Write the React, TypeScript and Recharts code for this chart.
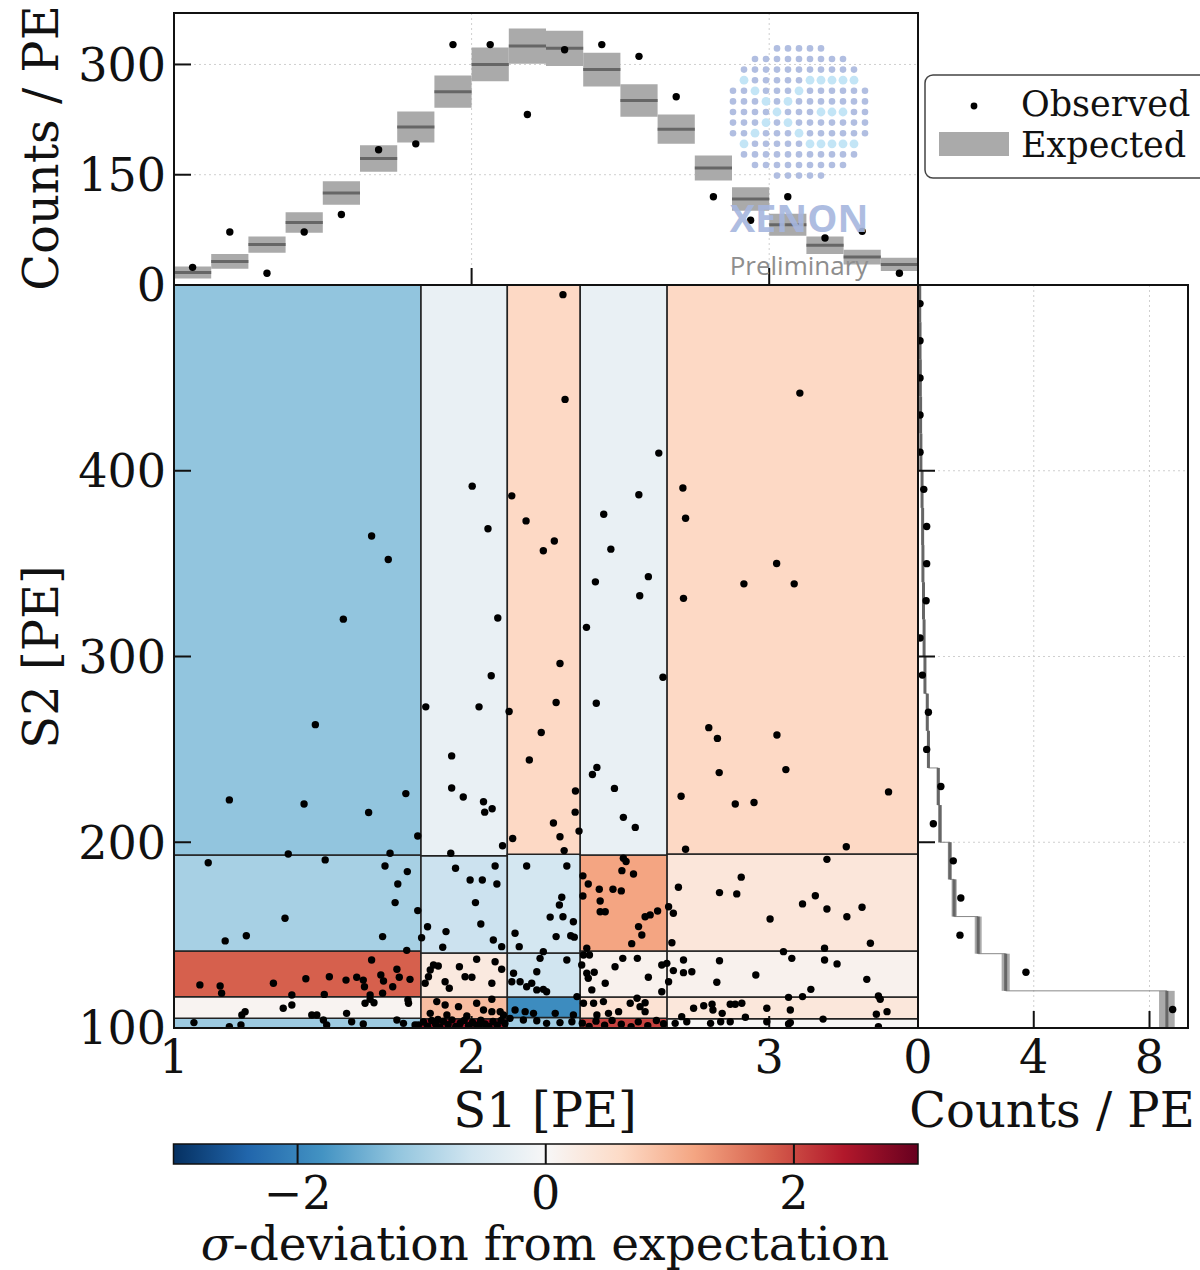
import React from 'react';
import {
  ScatterChart,
  ComposedChart,
  Scatter,
  XAxis,
  YAxis,
  CartesianGrid,
  ReferenceArea,
  ReferenceLine,
} from 'recharts';

const W = 1200;
const H = 1270;
const FONT = '"DejaVu Serif", "Liberation Serif", serif';

// ---------- Top panel: S1 projection ----------
const s1BinLow = [1.0, 1.125, 1.25, 1.375, 1.5, 1.625, 1.75, 1.875, 2.0, 2.125, 2.25, 2.375, 2.5, 2.625, 2.75, 2.875, 3.0, 3.125, 3.25, 3.375];
const s1BinHigh = [1.125, 1.25, 1.375, 1.5, 1.625, 1.75, 1.875, 2.0, 2.125, 2.25, 2.375, 2.5, 2.625, 2.75, 2.875, 3.0, 3.125, 3.25, 3.375, 3.5];
const s1Observed = [24, 72, 16, 72, 96, 184, 192, 327, 327, 232, 320, 327, 311, 256, 120, 88, 120, 64, 73, 16];
const s1Expected = [17, 32, 55, 85, 125, 172, 215, 263, 300, 325, 322, 293, 251, 212, 159, 117, 82, 54, 38, 28];
const s1ExpectedErr = [8, 10, 11, 14, 16, 18, 21, 22, 23, 24, 24, 23, 22, 20, 17, 16, 15, 12, 10, 9];
const topYTicks = [0, 150, 300];
const topXTicks = [2, 3];

// ---------- Right panel: S2 projection ----------
const s2BinLow = [100, 120, 140, 160, 180, 200, 220, 240, 260, 280, 300, 320, 340, 360, 380, 400, 420, 440, 460, 480];
const s2BinHigh = [120, 140, 160, 180, 200, 220, 240, 260, 280, 300, 320, 340, 360, 380, 400, 420, 440, 460, 480, 500];
const s2Observed = [8.8, 3.73, 1.45, 1.48, 1.22, 0.53, 0.79, 0.3, 0.36, 0.15, 0.07, 0.28, 0.3, 0.3, 0.2, 0.07, 0.07, 0.07, 0.07, 0.07];
const s2Expected = [8.6, 3.03, 2.08, 1.25, 1.1, 0.76, 0.7, 0.36, 0.32, 0.24, 0.21, 0.19, 0.17, 0.16, 0.14, 0.1, 0.09, 0.08, 0.07, 0.06];
const s2ExpectedErr = [0.27, 0.14, 0.12, 0.09, 0.07, 0.06, 0.05, 0.04, 0.04, 0.03, 0.03, 0.03, 0.03, 0.03, 0.03, 0.02, 0.02, 0.02, 0.02, 0.02];
const rightXTicks = [0, 4, 8];
const mainYTicks = [100, 200, 300, 400];
const mainXTicks = [1, 2, 3];

// ---------- Main panel: binning and sigma deviations ----------
const s1Edges = [1.0, 1.83, 2.12, 2.365, 2.657, 3.5];
const s2EdgesByColumn = [
  [100, 105.3, 116.8, 141.5, 193.2, 500],
  [100, 105.0, 116.7, 140.4, 192.7, 500],
  [100, 105.7, 116.7, 140.4, 193.5, 500],
  [100, 105.3, 116.7, 141.5, 193.2, 500],
  [100, 105.0, 116.7, 141.5, 193.7, 500],
];
const sigmaByColumn = [
  [-1.1, 0.08, 1.8, -1.0, -1.2],
  [2.5, 0.93, 0.3, -0.65, -0.22],
  [-1.05, -1.9, -0.6, -0.55, 0.62],
  [2.05, 0.45, 0.12, 1.2, -0.22],
  [0.02, 0.35, 0.12, 0.36, 0.62],
];
const colorbarTicks = [-2, 0, 2];

const events: [number, number][] = [
  // upper region
  [1.664, 364.9], [1.72, 352.2], [1.569, 320.1], [1.475, 263.3], [1.186, 222.8], [1.437, 220.6], [1.654, 216.0], [1.779, 226.2], [1.819, 203.4], [1.384, 193.7], [1.726, 194.1],
  [2.002, 391.7], [2.055, 368.8], [2.088, 320.7], [2.066, 289.6], [1.846, 272.9], [2.025, 272.9], [1.933, 246.5], [1.933, 229.2], [1.972, 224.4], [2.04, 221.8], [2.069, 218.0], [2.044, 216.2], [2.104, 198.1], [1.93, 194.1],
  [2.307, 494.8], [2.314, 438.4], [2.135, 386.5], [2.183, 373.0], [2.241, 356.9], [2.278, 362.2], [2.126, 270.4], [2.234, 259.1], [2.194, 244.3], [2.138, 202.0], [2.297, 296.2], [2.284, 275.2], [2.349, 227.6], [2.348, 216.2], [2.275, 210.4], [2.297, 203.0], [2.361, 206.0], [2.311, 195.5],
  [2.629, 409.5], [2.562, 387.1], [2.444, 376.6], [2.468, 357.8], [2.594, 343.0], [2.416, 340.2], [2.565, 332.7], [2.386, 315.7], [2.643, 288.8], [2.419, 274.8], [2.421, 240.3], [2.406, 236.5], [2.48, 229.0], [2.51, 213.4], [2.55, 208.0],
  [3.103, 441.8], [2.71, 390.7], [2.719, 374.4], [3.025, 350.1], [2.915, 339.1], [3.084, 339.1], [2.712, 331.3], [2.797, 261.7], [2.826, 255.9], [3.026, 257.7], [2.832, 237.5], [3.056, 239.1], [2.704, 224.8], [2.886, 220.6], [2.949, 221.4], [3.401, 227.1], [2.719, 196.2], [3.259, 197.6],
  // second row
  [1.508, 190.5], [1.115, 189.0], [1.709, 187.2], [1.784, 184.2], [1.752, 177.5], [1.743, 167.5], [1.819, 163.2], [1.373, 159.1], [1.243, 149.7], [1.172, 146.9], [1.701, 149.2], [1.832, 148.6], [1.782, 141.8],
  [1.946, 186.0], [2.079, 187.2], [1.995, 179.7], [2.036, 179.7], [2.085, 177.5], [2.013, 167.5], [2.031, 156.0], [1.852, 154.5], [1.914, 151.9], [2.073, 147.4], [2.101, 143.8], [1.903, 143.5],
  [2.185, 187.2], [2.146, 151.0], [2.16, 143.8], [2.264, 159.7], [2.32, 187.2], [2.303, 170.4], [2.295, 166.2], [2.307, 159.9], [2.342, 157.2], [2.284, 149.2], [2.333, 149.7], [2.345, 148.9],
  [2.51, 191.4], [2.519, 189.6], [2.505, 184.7], [2.544, 182.9], [2.374, 181.9], [2.392, 177.5], [2.429, 174.7], [2.475, 174.7], [2.503, 173.8], [2.374, 171.1], [2.432, 168.4], [2.432, 162.6], [2.449, 162.6], [2.583, 159.9], [2.6, 160.9], [2.625, 163.0], [2.662, 165.3], [2.561, 154.6], [2.572, 150.1], [2.538, 145.4], [2.387, 142.9],
  [2.678, 161.8], [2.673, 145.9], [3.194, 190.8], [2.695, 175.8], [2.833, 172.9], [2.891, 172.2], [2.906, 181.2], [3.003, 158.7], [3.112, 166.8], [3.155, 171.2], [3.194, 164.1], [3.261, 159.9], [3.312, 165.0], [3.34, 145.6], [3.186, 142.9],
  // third row
  [1.664, 136.6], [1.087, 123.2], [1.155, 122.6], [1.16, 118.7], [1.334, 124.1], [1.443, 126.5], [1.522, 127.6], [1.578, 125.8], [1.614, 127.3], [1.636, 125.8], [1.64, 122.2], [1.695, 128.5], [1.704, 125.3], [1.735, 122.2], [1.749, 131.6], [1.757, 127.3], [1.793, 126.2], [1.701, 118.7], [1.659, 117.8], [1.505, 118.1], [1.396, 117.8],
  [1.872, 133.9], [1.888, 133.4], [1.861, 131.2], [1.855, 127.6], [1.844, 124.1], [1.959, 133.0], [2.017, 137.0], [2.079, 135.7], [2.101, 131.6], [1.978, 127.6], [2.001, 127.3], [1.911, 124.9], [1.925, 121.4], [2.068, 124.1],
  [2.241, 141.1], [2.23, 137.5], [2.32, 136.6], [2.219, 130.3], [2.141, 129.5], [2.135, 124.9], [2.163, 124.9], [2.185, 122.2], [2.202, 124.1], [2.219, 120.5], [2.241, 120.8], [2.252, 119.5], [2.354, 116.9],
  [2.376, 139.3], [2.396, 139.3], [2.37, 133.9], [2.387, 129.5], [2.404, 120.5], [2.449, 124.1], [2.482, 133.0], [2.508, 137.5], [2.557, 137.5], [2.594, 127.3], [2.639, 133.9], [2.656, 134.8], [2.639, 119.5], [2.662, 124.9], [2.412, 130.0], [2.392, 126.8],
  [2.678, 130.9], [2.712, 136.6], [2.712, 129.8], [2.74, 130.3], [2.833, 136.2], [2.824, 124.6], [2.955, 128.5], [3.048, 141.1], [3.076, 137.5], [3.14, 120.8], [3.186, 136.6], [3.228, 134.5], [3.328, 126.2], [3.367, 117.2],
  // fourth row
  [1.642, 113.3], [1.659, 115.5], [1.672, 113.6], [1.788, 113.3], [1.786, 115.1], [1.367, 110.6], [1.396, 112.4], [1.239, 108.8], [1.228, 107.0], [1.463, 107.0], [1.48, 107.0], [1.58, 107.9],
  [1.883, 114.2], [1.911, 112.4], [1.956, 111.5], [2.017, 113.3], [2.04, 109.7], [2.068, 108.8], [1.861, 107.9], [1.917, 107.0], [2.096, 108.8], [2.107, 107.0], [1.984, 106.5], [2.068, 115.5],
  [2.146, 109.7], [2.18, 108.8], [2.208, 107.9], [2.281, 107.9], [2.342, 107.0],
  [2.376, 113.3], [2.41, 113.3], [2.443, 114.2], [2.533, 113.3], [2.556, 116.0], [2.566, 111.5], [2.583, 113.6], [2.583, 108.8], [2.494, 108.8], [2.46, 107.9], [2.421, 107.0],
  [3.065, 116.5], [3.112, 116.9], [3.373, 115.5], [2.746, 110.6], [2.78, 112.0], [2.808, 112.8], [2.811, 109.7], [2.842, 107.9], [2.869, 112.8], [2.886, 112.8], [2.908, 113.3], [2.992, 110.6], [3.071, 109.7], [2.92, 105.8], [3.396, 108.8], [3.36, 107.4], [2.706, 106.1],
  // bottom row
  [1.502, 104.3], [1.597, 103.4], [1.749, 104.3], [1.771, 102.5], [1.067, 102.9], [1.186, 100.7], [1.225, 101.6], [1.513, 101.6], [1.636, 102.2], [1.81, 101.6], [1.821, 101.6],
  [1.838, 103.2], [1.852, 101.0], [1.866, 104.0], [1.879, 102.1], [1.893, 100.6], [1.905, 103.6], [1.921, 101.8], [1.934, 104.4], [1.947, 100.9], [1.962, 102.7], [1.975, 104.1], [1.99, 101.3], [2.003, 103.0], [2.018, 100.7], [2.031, 104.2], [2.045, 102.2], [2.058, 100.9], [2.072, 103.5], [2.086, 101.5], [2.099, 104.0], [2.112, 102.4], [1.887, 104.6], [1.958, 100.5], [2.026, 102.0],
  [2.129, 105.2], [2.174, 104.3], [2.219, 103.9], [2.252, 102.5], [2.297, 102.9], [2.337, 103.4],
  [2.372, 102.6], [2.395, 100.8], [2.418, 103.7], [2.447, 101.5], [2.472, 104.1], [2.503, 102.0], [2.536, 100.7], [2.56, 103.3], [2.592, 101.2], [2.621, 104.0], [2.645, 102.3],
  [3.181, 104.8], [3.367, 100.7], [3.065, 102.2], [3.071, 102.9], [2.992, 103.4], [2.837, 103.4], [2.803, 102.5], [2.869, 103.4], [2.723, 103.4], [2.684, 102.5],
];

// ---------- colour map (RdBu reversed) ----------
const RDBU = ['#053061', '#2166ac', '#4393c3', '#92c5de', '#d1e5f0', '#f7f7f7', '#fddbc7', '#f4a582', '#d6604d', '#b2182b', '#67001f'];
function hexToRgb(h: string) {
  const n = parseInt(h.slice(1), 16);
  return [(n >> 16) & 255, (n >> 8) & 255, n & 255];
}
function sigmaColor(s: number) {
  const t = Math.min(1, Math.max(0, (s + 3) / 6)) * 10;
  const i = Math.min(9, Math.floor(t));
  const f = t - i;
  const a = hexToRgb(RDBU[i]);
  const b = hexToRgb(RDBU[i + 1]);
  const c = a.map((v, k) => Math.round(v + (b[k] - v) * f));
  return `rgb(${c[0]},${c[1]},${c[2]})`;
}

const cells: { x1: number; x2: number; y1: number; y2: number; fill: string }[] = [];
for (let ci = 0; ci < s1Edges.length - 1; ci++) {
  const rows = s2EdgesByColumn[ci];
  for (let r = 0; r < rows.length - 1; r++) {
    cells.push({ x1: s1Edges[ci], x2: s1Edges[ci + 1], y1: rows[r], y2: rows[r + 1], fill: sigmaColor(sigmaByColumn[ci][r]) });
  }
}

const topObsData = s1Observed.map((v, i) => ({ x: (s1BinLow[i] + s1BinHigh[i]) / 2, y: v }));
const rightObsData = s2Observed.map((v, i) => ({ x: v, y: (s2BinLow[i] + s2BinHigh[i]) / 2 }));
const eventData = events.map(([x, y]) => ({ x, y }));

const tickStyle = { fontSize: 46, fontFamily: FONT, fill: '#111' };
const tickLineStyle = { stroke: '#111', strokeWidth: 2 };
const gridProps = { stroke: '#cfcfcf', strokeDasharray: '2 3', strokeWidth: 1 };

const makeDot = (r: number) => (p: any) => <circle cx={p.cx} cy={p.cy} r={r} fill="#000" />;
const blank = () => '';
const minusFmt = (v: number) => (v < 0 ? '\u2212' + Math.abs(v) : String(v));

function TopChart() {
  return (
    <ScatterChart width={W} height={H} margin={{ top: 13, right: 282, bottom: 965, left: 0 }}>
      <CartesianGrid {...gridProps} />
      <XAxis type="number" dataKey="x" domain={[1, 3.5]} ticks={topXTicks} allowDataOverflow height={20}
        axisLine={false} tickSize={-17} tickFormatter={blank} tickLine={tickLineStyle} interval={0} />
      <YAxis type="number" dataKey="y" domain={[0, 370]} ticks={topYTicks} allowDataOverflow width={174}
        axisLine={false} tickSize={-17} tickMargin={25} tick={tickStyle} tickLine={tickLineStyle} interval={0} />
      {s1Expected.map((v, i) => (
        <ReferenceArea key={'a' + i} x1={s1BinLow[i]} x2={s1BinHigh[i]} y1={v - s1ExpectedErr[i]} y2={v + s1ExpectedErr[i]}
          fill="#aaaaaa" fillOpacity={1} stroke="none" />
      ))}
      {s1Expected.map((v, i) => (
        <ReferenceLine key={'l' + i} segment={[{ x: s1BinLow[i], y: v }, { x: s1BinHigh[i], y: v }]} stroke="#666" strokeWidth={3} />
      ))}
      <Scatter data={topObsData} shape={makeDot(3.7)} isAnimationActive={false} />
    </ScatterChart>
  );
}

function MainChart() {
  return (
    <ScatterChart width={W} height={H} margin={{ top: 285, right: 282, bottom: 182, left: 0 }}>
      <XAxis type="number" dataKey="x" domain={[1, 3.5]} ticks={mainXTicks} allowDataOverflow height={60}
        axisLine={false} tickSize={-12} tickMargin={24} tick={tickStyle} tickLine={tickLineStyle} interval={0} />
      <YAxis type="number" dataKey="y" domain={[100, 500]} ticks={mainYTicks} allowDataOverflow width={174}
        axisLine={false} tickSize={-17} tickMargin={25} tick={tickStyle} tickLine={tickLineStyle} interval={0} />
      {cells.map((c, i) => (
        <ReferenceArea key={i} x1={c.x1} x2={c.x2} y1={c.y1} y2={c.y2} fill={c.fill} fillOpacity={1} stroke="#222" strokeWidth={1.5} />
      ))}
      <Scatter data={eventData} shape={makeDot(3.7)} isAnimationActive={false} />
    </ScatterChart>
  );
}

function RightChart() {
  return (
    <ScatterChart width={W} height={H} margin={{ top: 285, right: 12, bottom: 182, left: 917 }}>
      <CartesianGrid {...gridProps} />
      <XAxis type="number" dataKey="x" domain={[0, 9.33]} ticks={rightXTicks} allowDataOverflow height={60}
        axisLine={false} tickSize={-17} tickMargin={29} tick={tickStyle} tickLine={tickLineStyle} interval={0} />
      <YAxis type="number" dataKey="y" domain={[100, 500]} ticks={mainYTicks} allowDataOverflow width={1}
        axisLine={false} tickSize={-17} tickFormatter={blank} tickLine={tickLineStyle} interval={0} />
      {s2Expected.map((v, i) => (
        <ReferenceArea key={'a' + i} x1={v - s2ExpectedErr[i]} x2={v + s2ExpectedErr[i]} y1={s2BinLow[i]} y2={s2BinHigh[i]}
          fill="#aaaaaa" fillOpacity={1} stroke="none" />
      ))}
      {s2Expected.slice(0, -1).map((v, i) => (
        <ReferenceLine key={'c' + i} segment={[{ x: v, y: s2BinHigh[i] }, { x: s2Expected[i + 1], y: s2BinHigh[i] }]} stroke="#888" strokeWidth={1} />
      ))}
      {s2Expected.map((v, i) => (
        <ReferenceLine key={'l' + i} segment={[{ x: v, y: s2BinLow[i] }, { x: v, y: s2BinHigh[i] }]} stroke="#666" strokeWidth={3} />
      ))}
      <Scatter data={rightObsData} shape={makeDot(3.7)} isAnimationActive={false} />
    </ScatterChart>
  );
}

function Colorbar() {
  return (
    <ComposedChart width={W} height={H} margin={{ top: 1144, right: 282, bottom: 46, left: 173.5 }}>
      <defs>
        <linearGradient id="rdbuGrad" x1="0" y1="0" x2="1" y2="0">
          {RDBU.map((c, i) => (
            <stop key={i} offset={`${i * 10}%`} stopColor={c} />
          ))}
        </linearGradient>
      </defs>
      <XAxis type="number" dataKey="x" domain={[-3, 3]} ticks={colorbarTicks} allowDataOverflow height={60}
        axisLine={false} tickLine={false} tickSize={0} tickMargin={12} tick={tickStyle} tickFormatter={minusFmt} interval={0} />
      <YAxis type="number" hide domain={[0, 1]} allowDataOverflow />
      <ReferenceArea x1={-3} x2={3} y1={0} y2={1} fill="url(#rdbuGrad)" fillOpacity={1} stroke="#111" strokeWidth={1.5} />
      {colorbarTicks.map((t) => (
        <ReferenceLine key={t} x={t} stroke="#111" strokeWidth={2} />
      ))}
    </ComposedChart>
  );
}

const logoHighlights: [number, number][] = [
  [-5, -3], [1, -3], [2, -3], [3, -3], [4, -3], [5, -3],
  [-4, -2], [0, -2], [-3, -1], [-1, -1],
  [-2, 0], [2, 0], [3, 0], [4, 0],
  [-3, 1], [-1, 1], [-4, 2], [0, 2],
  [-5, 3], [1, 3], [2, 3], [3, 3], [4, 3], [5, 3],
];

function Logo() {
  const cx = 799;
  const cy = 112;
  const dots: React.ReactNode[] = [];
  for (let j = -6; j <= 6; j++) {
    for (let i = -6; i <= 6; i++) {
      if (i * i + j * j > 42.25) continue;
      const hl = logoHighlights.some(([a, b]) => a === i && b === j);
      dots.push(
        <circle key={i + '_' + j} cx={cx + i * 11} cy={cy + j * 10.6} r={hl ? 4.4 : 3.3} fill={hl ? '#bde3f6' : '#a9b8de'} />
      );
    }
  }
  return (
    <svg width={W} height={H} style={{ position: 'absolute', left: 0, top: 0 }}>
      <g opacity={0.9}>{dots}</g>
      <text x={cx} y={232} textAnchor="middle" fontFamily='"Open Sans", "DejaVu Sans", sans-serif' fontWeight={700}
        fontSize={38} fill="#a6b6de" opacity={0.9}>XENON</text>
      <text x={cx} y={275} textAnchor="middle" fontFamily='"Open Sans", "DejaVu Sans", sans-serif'
        fontSize={26} fill="#8e8e8e">Preliminary</text>
    </svg>
  );
}

function Legend() {
  return (
    <svg width={W} height={H} style={{ position: 'absolute', left: 0, top: 0 }}>
      <rect x={925} y={75} width={292} height={103} rx={8} ry={8} fill="#fff" fillOpacity={0.9} stroke="#444" strokeWidth={1.5} />
      <circle cx={974} cy={106} r={3.4} fill="#000" />
      <rect x={939} y={132} width={70} height={24} fill="#aaaaaa" />
      <text x={1021} y={116} fontFamily={FONT} fontSize={35} fill="#111">Observed</text>
      <text x={1021} y={157} fontFamily={FONT} fontSize={35} fill="#111">Expected</text>
    </svg>
  );
}

const layer: React.CSSProperties = { position: 'absolute', left: 0, top: 0, width: W, height: H, pointerEvents: 'none' };

function Frame({ left, top, width, height }: { left: number; top: number; width: number; height: number }) {
  return (
    <div style={{ position: 'absolute', left, top, width, height, border: '2px solid #111', boxSizing: 'border-box', pointerEvents: 'none' }} />
  );
}

function Title({ children, cx, cy, vertical, size = 48 }: { children: React.ReactNode; cx: number; cy: number; vertical?: boolean; size?: number }) {
  const w = 900;
  const h = 60;
  return (
    <div
      style={{
        position: 'absolute',
        left: cx - w / 2,
        top: cy - h / 2,
        width: w,
        height: h,
        lineHeight: h + 'px',
        textAlign: 'center',
        fontFamily: FONT,
        fontSize: size,
        color: '#111',
        whiteSpace: 'nowrap',
        transform: vertical ? 'rotate(-90deg)' : undefined,
      }}
    >
      {children}
    </div>
  );
}

export default function App() {
  return (
    <div style={{ position: 'absolute', left: 0, top: 0, width: W, height: H, overflow: 'hidden', background: '#fff' }}>
      <div style={layer}><TopChart /></div>
      <div style={layer}><Logo /></div>
      <div style={layer}><MainChart /></div>
      <div style={layer}><RightChart /></div>
      <div style={layer}><Colorbar /></div>
      <Frame left={173} top={12} width={746} height={274} />
      <Frame left={173} top={284} width={746} height={745} />
      <Frame left={917} top={284} width={272} height={745} />
      <Legend />
      <Title cx={41} cy={148} vertical>Counts / PE</Title>
      <Title cx={41} cy={657} vertical>S2 [PE]</Title>
      <Title cx={545} cy={1110}>S1 [PE]</Title>
      <Title cx={1052} cy={1110}>Counts / PE</Title>
      <Title cx={545} cy={1244} size={47}>
        <span style={{ fontStyle: 'italic' }}>{'\u03c3'}</span>-deviation from expectation
      </Title>
    </div>
  );
}
